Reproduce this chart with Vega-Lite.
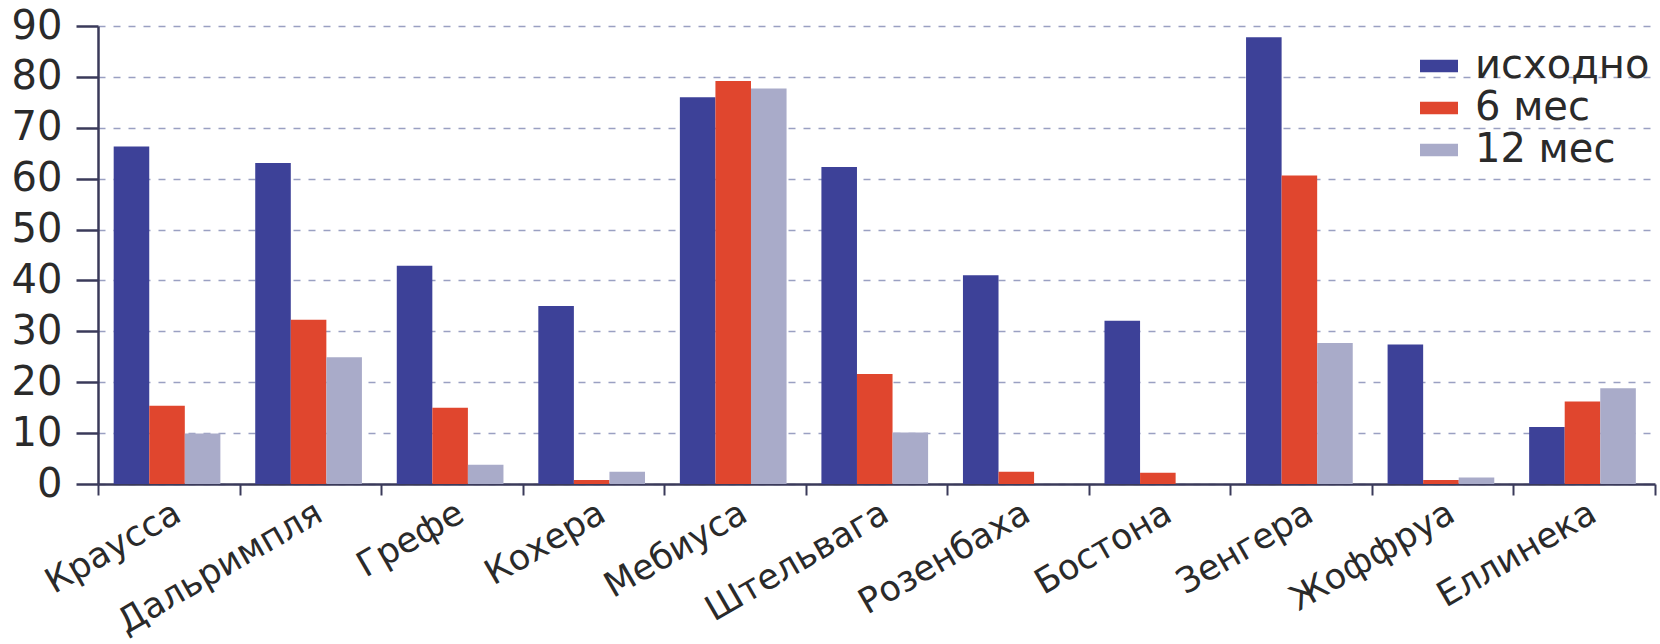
{
  "$schema": "https://vega.github.io/schema/vega-lite/v6.json",
  "width": 1557,
  "height": 458,
  "autosize": "none",
  "padding": {"left": 98, "top": 26, "right": 5, "bottom": 160},
  "background": "white",
  "config": {"view": {"stroke": null}, "font": "DejaVu Sans"},
  "data": {
    "values": [
      {"cat": "Краусса", "period": "исходно", "value": 66.3},
      {"cat": "Краусса", "period": "6 мес", "value": 15.4},
      {"cat": "Краусса", "period": "12 мес", "value": 9.9},
      {"cat": "Дальримпля", "period": "исходно", "value": 63.1},
      {"cat": "Дальримпля", "period": "6 мес", "value": 32.3},
      {"cat": "Дальримпля", "period": "12 мес", "value": 24.9},
      {"cat": "Грефе", "period": "исходно", "value": 42.9},
      {"cat": "Грефе", "period": "6 мес", "value": 15.0},
      {"cat": "Грефе", "period": "12 мес", "value": 3.8},
      {"cat": "Кохера", "period": "исходно", "value": 35.0},
      {"cat": "Кохера", "period": "6 мес", "value": 0.8},
      {"cat": "Кохера", "period": "12 мес", "value": 2.4},
      {"cat": "Мебиуса", "period": "исходно", "value": 76.0},
      {"cat": "Мебиуса", "period": "6 мес", "value": 79.2},
      {"cat": "Мебиуса", "period": "12 мес", "value": 77.7},
      {"cat": "Штельвага", "period": "исходно", "value": 62.3},
      {"cat": "Штельвага", "period": "6 мес", "value": 21.6},
      {"cat": "Штельвага", "period": "12 мес", "value": 10.1},
      {"cat": "Розенбаха", "period": "исходно", "value": 41.0},
      {"cat": "Розенбаха", "period": "6 мес", "value": 2.4},
      {"cat": "Бостона", "period": "исходно", "value": 32.1},
      {"cat": "Бостона", "period": "6 мес", "value": 2.2},
      {"cat": "Зенгера", "period": "исходно", "value": 87.8},
      {"cat": "Зенгера", "period": "6 мес", "value": 60.6},
      {"cat": "Зенгера", "period": "12 мес", "value": 27.7},
      {"cat": "Жоффруа", "period": "исходно", "value": 27.4},
      {"cat": "Жоффруа", "period": "6 мес", "value": 0.8},
      {"cat": "Жоффруа", "period": "12 мес", "value": 1.3},
      {"cat": "Еллинека", "period": "исходно", "value": 11.2},
      {"cat": "Еллинека", "period": "6 мес", "value": 16.2},
      {"cat": "Еллинека", "period": "12 мес", "value": 18.8}
    ]
  },
  "mark": {"type": "bar"},
  "encoding": {
    "x": {
      "field": "cat",
      "type": "nominal",
      "sort": null,
      "title": null,
      "scale": {"paddingInner": 0, "paddingOuter": 0},
      "axis": {
        "tickBand": "extent",
        "labelAngle": -30,
        "labelFontSize": 35,
        "labelColor": "#2a2a2a",
        "labelPadding": 0,
        "labelLimit": 0,
        "tickSize": 11,
        "tickWidth": 2,
        "tickColor": "#3a3a5a",
        "domainColor": "#3a3a5a",
        "domainWidth": 2.5,
        "grid": false
      }
    },
    "xOffset": {
      "field": "period",
      "type": "nominal",
      "sort": ["исходно", "6 мес", "12 мес"],
      "scale": {"domain": ["исходно", "6 мес", "12 мес"], "paddingInner": 0, "paddingOuter": 0.49, "align": 0.45}
    },
    "y": {
      "field": "value",
      "type": "quantitative",
      "title": null,
      "scale": {"domain": [0, 90], "nice": false},
      "axis": {
        "values": [0, 10, 20, 30, 40, 50, 60, 70, 80, 90],
        "labelFontSize": 40,
        "labelColor": "#2a2a2a",
        "labelPadding": 14,
        "tickSize": 22,
        "tickWidth": 2.5,
        "tickColor": "#3a3a5a",
        "domainColor": "#3a3a5a",
        "domainWidth": 2.5,
        "grid": true,
        "gridDash": [7, 8],
        "gridColor": "#9aa0c2",
        "gridWidth": 1.5
      }
    },
    "color": {
      "field": "period",
      "type": "nominal",
      "title": null,
      "scale": {"domain": ["исходно", "6 мес", "12 мес"], "range": ["#3d4198", "#e0462e", "#a9abc9"]},
      "legend": {
        "orient": "none",
        "legendX": 1321,
        "legendY": 20,
        "padding": 0,
        "symbolType": "M-1,-0.33H1V0.33H-1Z",
        "symbolSize": 1444,
        "symbolStrokeWidth": 0,
        "labelFontSize": 40,
        "labelLimit": 0,
        "labelColor": "#2a2a2a",
        "labelOffset": 16,
        "rowPadding": 2
      }
    }
  }
}
